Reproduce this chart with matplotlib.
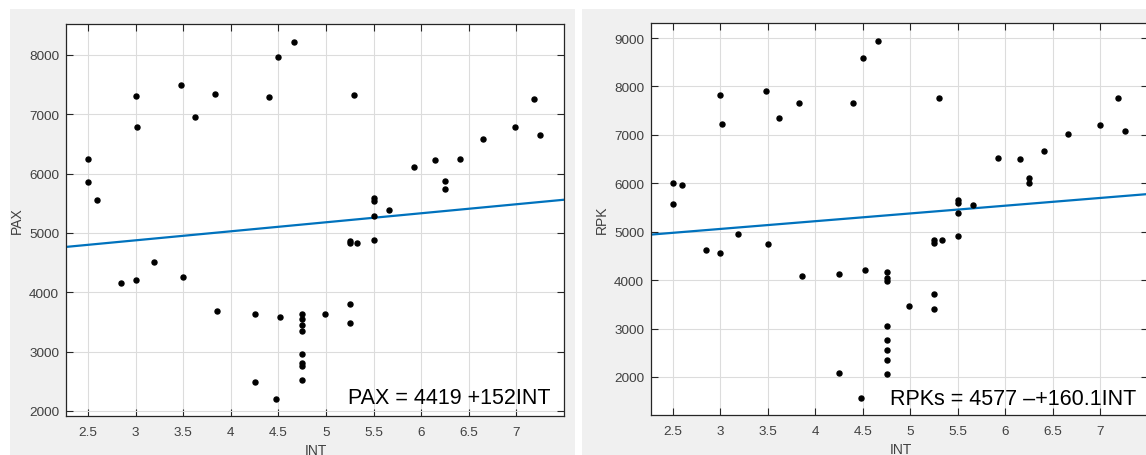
import matplotlib.pyplot as plt
from matplotlib.patches import Rectangle
from matplotlib.ticker import FuncFormatter
import numpy as np

plt.rcParams['font.family'] = ['Liberation Sans', 'DejaVu Sans']

# PAX vs INT
int_pax = [2.5, 2.5, 2.6, 3.0, 3.02, 3.48, 3.62, 3.83, 4.40, 4.5, 4.66,
           5.29, 7.18, 6.99, 7.25, 6.65, 6.41, 6.15, 5.92, 6.25, 6.25,
           5.5, 5.5, 5.66, 5.5, 2.85, 3.0, 3.19, 3.5, 3.86, 4.25, 4.52,
           4.75, 4.75, 4.75, 4.75, 4.75, 4.75, 4.75, 4.75,
           4.25, 4.48, 4.99, 5.25, 5.25, 5.25, 5.25, 5.33, 5.5]
pax = [6250, 5850, 5550, 7300, 6780, 7500, 6950, 7340, 7285, 7965, 8215,
       7320, 7255, 6780, 6655, 6590, 6250, 6225, 6110, 5870, 5740,
       5580, 5530, 5380, 5290, 4150, 4210, 4505, 4265, 3685, 3640, 3580,
       3640, 3555, 3445, 3340, 2960, 2805, 2760, 2515,
       2490, 2195, 3630, 3805, 3490, 4860, 4830, 4830, 4875]

# RPK vs INT
int_rpk = [2.5, 2.5, 2.6, 3.0, 3.02, 3.48, 3.62, 3.83, 4.40, 4.5, 4.66,
           5.3, 7.18, 6.99, 7.26, 6.66, 6.41, 6.15, 5.92, 6.25, 6.25,
           5.5, 5.5, 5.66, 5.5, 2.85, 3.0, 3.19, 3.5, 3.86, 4.25, 4.52,
           4.75, 4.75, 4.75, 4.75, 4.75, 4.75, 4.75, 4.75,
           4.25, 4.48, 4.99, 5.25, 5.25, 5.25, 5.25, 5.33, 5.5]
rpk = [6000, 5570, 5970, 7815, 7215, 7905, 7345, 7650, 7650, 8580, 8930,
       7765, 7765, 7200, 7085, 7025, 6660, 6505, 6525, 6100, 6000,
       5650, 5600, 5555, 5395, 4615, 4560, 4950, 4750, 4095, 4125, 4215,
       4160, 4035, 3990, 3060, 2760, 2555, 2355, 2065,
       2085, 1560, 3475, 3715, 3400, 4820, 4760, 4835, 4905]

panels = [
    dict(x=int_pax, y=pax, a=4419, b=152, ylabel='PAX', text='PAX = 4419 +152INT',
         pos=[66, 25, 564, 417], ylim=(1915, 8520), yticks=range(2000, 8001, 1000),
         tx=0.566, ty=0.033),
    dict(x=int_rpk, y=rpk, a=4577, b=160.1, ylabel='RPK', text='RPKs = 4577 \u2013+160.1INT',
         pos=[651, 24, 1148, 416], ylim=(1215, 9310), yticks=range(2000, 9001, 1000),
         tx=0.481, ty=0.028),
]

W, H = 1146, 456
fig = plt.figure(figsize=(W / 100, H / 100), dpi=100, facecolor='white')

# grey panel backgrounds
for x0, x1 in [(10, 575), (582, 1146)]:
    fig.patches.append(Rectangle((x0 / W, 0), (x1 - x0) / W, (H - 10) / H,
                                 transform=fig.transFigure, facecolor='#f0f0f0',
                                 edgecolor='none', zorder=-10))

xlim = (2.27, 7.5)
xticks = np.arange(2.5, 7.01, 0.5)
fmt = FuncFormatter(lambda v, p: f'{v:g}')
txtcol = '#404040'

for p in panels:
    l, t, r, b = p['pos']
    ax = fig.add_axes([l / W, 1 - b / H, (r - l) / W, (b - t) / H])
    ax.set_zorder(1)
    ax.set_facecolor('white')
    ax.grid(True, color='#dcdcdc', linewidth=0.8)
    ax.set_axisbelow(True)

    ax.plot(p['x'], p['y'], 'o', color='black', markersize=3.6, linestyle='none', zorder=3)
    xs = np.array(xlim)
    ax.plot(xs, p['a'] + p['b'] * xs, color='#0072BD', linewidth=1.6, zorder=2)

    ax.set_xlim(*xlim)
    ax.set_ylim(*p['ylim'])
    ax.set_xticks(xticks)
    ax.set_yticks(list(p['yticks']))
    ax.xaxis.set_major_formatter(fmt)
    ax.tick_params(direction='in', length=5, width=0.8, color='#262626',
                   top=True, right=True, labelsize=9.7, labelcolor=txtcol)
    ax.tick_params(axis='x', pad=7)
    ax.tick_params(axis='y', pad=5)
    for s in ax.spines.values():
        s.set_color('#262626')
        s.set_linewidth(0.9)

    ax.set_xlabel('INT', fontsize=10, color=txtcol)
    ax.xaxis.set_label_coords(0.502, -0.069)
    ax.set_ylabel(p['ylabel'], fontsize=10, color=txtcol)
    ax.yaxis.set_label_coords(-0.085, 0.5)

    ax.text(p['tx'], p['ty'], p['text'], transform=ax.transAxes, fontsize=15.5,
            color='black', va='baseline', ha='left', zorder=4)

fig.savefig('out.png', dpi=100, facecolor=fig.get_facecolor())
